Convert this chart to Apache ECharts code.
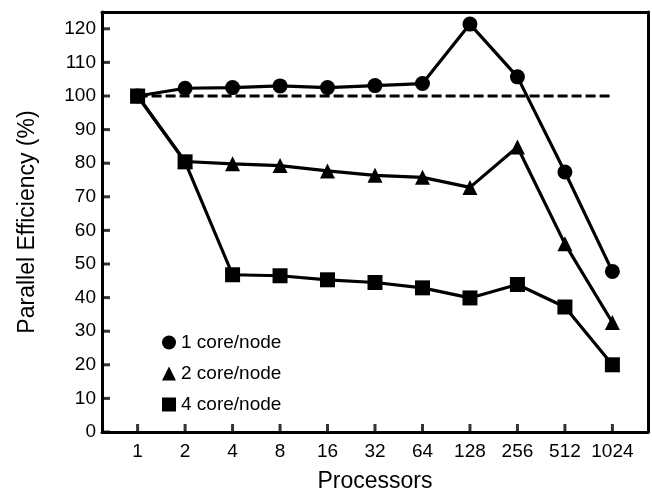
<!DOCTYPE html>
<html>
<head>
<meta charset="utf-8">
<script src="https://cdn.jsdelivr.net/npm/echarts@6/dist/echarts.min.js"></script>
<style>
html,body{margin:0;padding:0;background:#fff;}
#chart{width:652px;height:498px;}
</style>
</head>
<body>
<div id="chart"></div>
<script>
var processors = ['1','2','4','8','16','32','64','128','256','512','1024'];
var core1 = [100, 102.3, 102.5, 103.0, 102.5, 103.1, 103.7, 121.4, 105.7, 77.4, 47.8];
var core2 = [100, 80.5, 79.8, 79.3, 77.7, 76.4, 75.8, 72.8, 84.8, 56.0, 32.6];
var core4 = [100, 80.4, 46.8, 46.5, 45.3, 44.5, 42.9, 39.9, 43.9, 37.2, 20.0];
var ideal = [100, 100, 100, 100, 100, 100, 100, 100, 100, 100, 100];
var yTicks = [0, 10, 20, 30, 40, 50, 60, 70, 80, 90, 100, 110, 120];
var seriesNames = ['1 core/node', '2 core/node', '4 core/node'];

var X_MIN = -0.75, X_MAX = 10.75, Y_MIN = 0, Y_MAX = 125;

function pairs(arr) { return arr.map(function (v, i) { return [i, v]; }); }
var xIdx = processors.map(function (p, i) { return i; });

var font = 'Liberation Sans, Arial, Helvetica, sans-serif';
var chart = echarts.init(document.getElementById('chart'), null, {renderer: 'canvas'});
function lineSeries(name, data, symbol, size) {
  return {
    name: name, type: 'line', data: pairs(data), symbol: symbol, symbolSize: size,
    itemStyle: {color: '#000'}, lineStyle: {color: '#000', width: 3.2}, z: 3, animation: false
  };
}
var frameAxis = {
  axisLine: {show: true, onZero: false, lineStyle: {color: '#000', width: 3}},
  axisTick: {show: false}, axisLabel: {show: false}, splitLine: {show: false}
};
chart.setOption({
  backgroundColor: '#fff',
  animation: false,
  grid: {left: 102, right: 4, top: 12, bottom: 61, show: false},
  legend: {
    left: 157, top: 328, orient: 'vertical', itemWidth: 14, itemHeight: 14, itemGap: 12,
    textStyle: {fontFamily: font, fontSize: 19, color: '#000'},
    data: [
      {name: seriesNames[0], icon: 'circle'},
      {name: seriesNames[1], icon: 'triangle'},
      {name: seriesNames[2], icon: 'rect'}
    ]
  },
  xAxis: [{
    type: 'value', min: X_MIN, max: X_MAX, position: 'bottom',
    name: 'Processors', nameLocation: 'middle', nameGap: 38,
    nameTextStyle: {fontFamily: font, fontSize: 23, color: '#000'},
    axisLine: {show: true, onZero: false, lineStyle: {color: '#000', width: 3}},
    axisTick: {show: false},
    axisLabel: {fontFamily: font, fontSize: 19, color: '#000', margin: 10, customValues: xIdx,
      formatter: function (v) { return processors[Math.round(v)]; }},
    splitLine: {show: false}
  }, Object.assign({type: 'value', min: X_MIN, max: X_MAX, position: 'top'}, frameAxis)],
  yAxis: [{
    type: 'value', min: Y_MIN, max: Y_MAX, position: 'left',
    name: 'Parallel Efficiency (%)', nameLocation: 'middle', nameGap: 63,
    nameTextStyle: {fontFamily: font, fontSize: 23, color: '#000'},
    axisLine: {show: true, onZero: false, lineStyle: {color: '#000', width: 3}},
    axisTick: {show: false},
    axisLabel: {fontFamily: font, fontSize: 19, color: '#000', margin: 6, customValues: yTicks},
    splitLine: {show: false}
  }, Object.assign({type: 'value', min: Y_MIN, max: Y_MAX, position: 'right'}, frameAxis)],
  series: [
    {name: 'ideal', type: 'line', data: pairs(ideal), symbol: 'none',
     lineStyle: {color: '#000', width: 3, type: [10, 4]}, z: 2, silent: true},
    {name: 'xTicks', type: 'scatter', silent: true, clip: false, z: 4,
     data: xIdx.map(function (i) { return [i, Y_MIN]; }),
     symbol: 'rect', symbolSize: [3, 8], symbolOffset: [0, -4], itemStyle: {color: '#000'}},
    {name: 'yTicks', type: 'scatter', silent: true, clip: false, z: 4,
     data: yTicks.map(function (v) { return [X_MIN, v]; }),
     symbol: 'rect', symbolSize: [8, 3], symbolOffset: [4, 0], itemStyle: {color: '#000'}},
    lineSeries(seriesNames[0], core1, 'circle', 15),
    lineSeries(seriesNames[1], core2, 'triangle', 15),
    lineSeries(seriesNames[2], core4, 'rect', 15)
  ]
});
</script>
</body>
</html>
